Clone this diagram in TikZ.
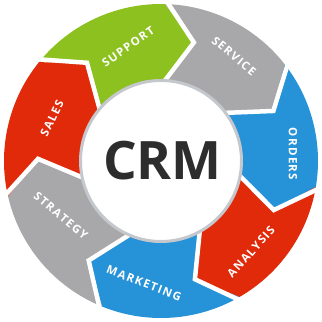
\documentclass[tikz,border=0pt]{standalone}
\usepackage{fontspec}
\setmainfont{Open Sans}
\definecolor{cgreen}{RGB}{140,193,31}
\definecolor{cgray}{RGB}{168,168,170}
\definecolor{cblue}{RGB}{38,146,216}
\definecolor{cred}{RGB}{224,42,10}
\definecolor{cborder}{RGB}{196,200,204}
\definecolor{ctext}{RGB}{45,45,45}
\newcommand\Ro{157bp}
\newcommand\Rx{162bp}
\newcommand\Rm{123bp}
\newcommand\Ri{78bp}
\newcommand\dl{14}
\makeatletter
\newcommand\spacedword[1]{\spw@#1\relax}
\def\spw@#1#2{#1\ifx\relax#2\else\kern1.3bp\expandafter\spw@\expandafter#2\fi}
\makeatother
\newcommand\ringseg[3]{%
  \fill[#3] (#1:\Ro) arc[start angle=#1, end angle=#2, radius=\Ro]
    -- ({#2-\dl}:\Rm) -- (#2:\Ri)
    arc[start angle=#2, end angle=#1, radius=\Ri]
    -- ({#1-\dl}:\Rm) -- cycle;}
\newcommand\ringgap[1]{%
  \draw[gapline] (#1:\Rx) -- ({#1-\dl}:\Rm) -- (#1:\Ri);}
\tikzset{
  gapline/.style={white, line width=4.5bp, line join=miter},
  lab/.style={text=white, font=\bfseries\fontsize{11.5bp}{13bp}\selectfont, inner sep=0pt},
}
\begin{document}
\begin{tikzpicture}
\useasboundingbox (-161bp,-161bp) rectangle (161bp,161bp);
\fill[white] (-161bp,-161bp) rectangle (161bp,161bp);
\ringseg{141}{88.5}{cgreen}
\ringseg{88.5}{38}{cgray}
\ringseg{38}{-9.5}{cblue}
\ringseg{-9.5}{-60}{cred}
\ringseg{-60}{-112}{cblue}
\ringseg{-112}{-167}{cgray}
\ringseg{193}{141}{cred}
\ringgap{141}
\ringgap{88.5}
\ringgap{38}
\ringgap{-9.5}
\ringgap{-60}
\ringgap{-112}
\ringgap{-167}
\node[circle, draw=cborder, line width=3bp, fill=white, minimum size=161bp, inner sep=0pt] (hub) at (0,0) {};
\node[text=ctext, font=\bfseries\fontsize{53bp}{60bp}\selectfont, inner sep=0pt] (crm) at (1.5bp,0.5bp) {CRM};
\node[lab, rotate=35] (support) at (-33bp,114bp) {\spacedword{SUPPORT}};
\node[lab, rotate=-40] (service) at (73bp,105bp) {\spacedword{SERVICE}};
\node[lab, rotate=-90] (orders) at (132bp,7bp) {\spacedword{ORDERS}};
\node[lab, rotate=48] (analysis) at (90bp,-91bp) {\spacedword{ANALYSIS}};
\node[lab, rotate=-21] (marketing) at (-17bp,-122bp) {\spacedword{MARKETING}};
\node[lab, rotate=-40] (strategy) at (-100bp,-55bp) {\spacedword{STRATEGY}};
\node[lab, rotate=64] (sales) at (-109bp,43bp) {\spacedword{SALES}};
\end{tikzpicture}
\end{document}
